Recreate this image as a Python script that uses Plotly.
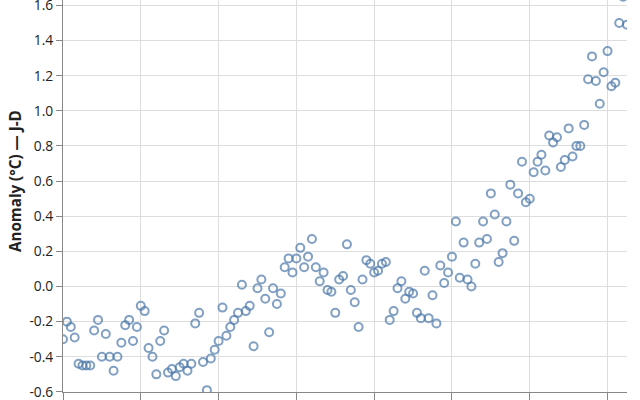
import plotly.graph_objects as go

years = list(range(1880, 2026))
anomaly = [
    -0.30, -0.20, -0.23, -0.29, -0.44, -0.45, -0.45, -0.45, -0.25, -0.19,
    -0.40, -0.27, -0.40, -0.48, -0.40, -0.32, -0.22, -0.19, -0.31, -0.23,
    -0.11, -0.14, -0.35, -0.40, -0.50, -0.31, -0.25, -0.49, -0.47, -0.51,
    -0.46, -0.44, -0.48, -0.44, -0.21, -0.15, -0.43, -0.59, -0.41, -0.36,
    -0.31, -0.12, -0.28, -0.23, -0.19, -0.15, 0.01, -0.14, -0.11, -0.34,
    -0.01, 0.04, -0.07, -0.26, -0.01, -0.10, -0.04, 0.11, 0.16, 0.08,
    0.16, 0.22, 0.11, 0.17, 0.27, 0.11, 0.03, 0.08, -0.02, -0.03,
    -0.15, 0.04, 0.06, 0.24, -0.02, -0.09, -0.23, 0.04, 0.15, 0.13,
    0.08, 0.09, 0.13, 0.14, -0.19, -0.14, -0.01, 0.03, -0.07, -0.03,
    -0.04, -0.15, -0.18, 0.09, -0.18, -0.05, -0.21, 0.12, 0.02, 0.08,
    0.17, 0.37, 0.05, 0.25, 0.04, 0.00, 0.13, 0.25, 0.37, 0.27,
    0.53, 0.41, 0.14, 0.19, 0.37, 0.58, 0.26, 0.53, 0.71, 0.48,
    0.50, 0.65, 0.71, 0.75, 0.66, 0.86, 0.82, 0.85, 0.68, 0.72,
    0.90, 0.74, 0.80, 0.80, 0.92, 1.18, 1.31, 1.17, 1.04, 1.22,
    1.34, 1.14, 1.16, 1.50, 1.65, 1.49,
]
y_ticks = [-0.6, -0.4, -0.2, 0.0, 0.2, 0.4, 0.6, 0.8, 1.0, 1.2, 1.4, 1.6, 1.8]
x_ticks = list(range(1880, 2030, 20))
y_title = "Anomaly (°C) — J-D"

fig = go.Figure(go.Scatter(
    x=years, y=anomaly, mode="markers",
    marker=dict(symbol="circle-open", size=8, color="rgba(76,120,168,0.7)",
                line=dict(width=2, color="rgba(76,120,168,0.7)")),
    hoverinfo="skip", showlegend=False,
))

font = "Open Sans, DejaVu Sans, sans-serif"
fig.update_layout(
    width=640, height=400,
    margin=dict(l=63, r=13, t=0, b=8, autoexpand=False),
    plot_bgcolor="white", paper_bgcolor="white",
    font=dict(family=font, size=13.8, color="#222"),
    xaxis=dict(range=[1880, 2025], tickvals=x_ticks, showticklabels=False,
               showgrid=True, gridcolor="#dddddd", gridwidth=1,
               showline=True, linecolor="#888888", linewidth=1,
               ticks="outside", ticklen=8, tickcolor="#888888",
               zeroline=False, automargin=False),
    yaxis=dict(range=[-0.6005, 1.631], tickvals=y_ticks,
               ticktext=[f"{v:.1f}" for v in y_ticks],
               showgrid=True, gridcolor="#dddddd", gridwidth=1,
               showline=True, linecolor="#888888", linewidth=1,
               ticks="outside", ticklen=6, tickcolor="#888888",
               tickfont=dict(size=13.8, color="#222"),
               ticklabeloverflow="allow",
               zeroline=False, automargin=False),
    annotations=[dict(text=f"<b>{y_title}</b>", xref="paper", yref="paper",
                      x=-0.085, y=(392 - 181) / 392, xanchor="center", yanchor="middle",
                      textangle=-90, showarrow=False,
                      font=dict(family=font, size=15.2, color="#222"))],
)
fig.write_html("out.html", config={"displayModeBar": False},
               post_script="document.body.style.margin='0';document.body.style.overflow='hidden';")
